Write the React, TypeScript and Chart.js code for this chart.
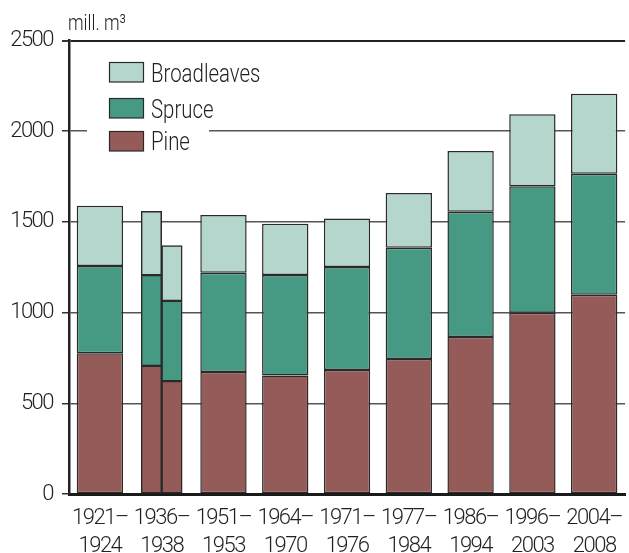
import React, { useEffect, useRef } from "react";
import { Chart, registerables } from "chart.js";

Chart.register(...registerables);

// ---- Data ----
const categories: string[][] = [
  ["1921–", "1924"],
  ["1936–", "1938"],
  ["1951–", "1953"],
  ["1964–", "1970"],
  ["1971–", "1976"],
  ["1977–", "1984"],
  ["1986–", "1994"],
  ["1996–", "2003"],
  ["2004–", "2008"],
];
// Main bars (index 1 is drawn as two split half-bars below)
const pine: (number | null)[] = [776, null, 672, 653, 684, 744, 866, 999, 1098];
const spruce: (number | null)[] = [481, null, 548, 554, 567, 613, 690, 697, 668];
const broadleaves: (number | null)[] = [332, null, 318, 283, 268, 302, 335, 397, 440];
// Split bar for 1936–1938: [left half, right half]
const splitIndex = 1;
const pineSplit = [706, 622];
const spruceSplit = [501, 443];
const broadleavesSplit = [351, 304];
const yTicks = [0, 500, 1000, 1500, 2000, 2500];

const seriesNames = ["Broadleaves", "Spruce", "Pine"];
const COLORS: Record<string, string> = {
  Pine: "#955b59",
  Spruce: "#469a83",
  Broadleaves: "#b5d6cd",
};
const BORDER = "#2a2a2a";
const TEXT = "#231f20";
const FONT = "Roboto, 'DejaVu Sans Condensed', sans-serif";
const SPACING = "-1.5px";
const CONDENSE = 0.8;

function splitData(vals: number[], half: number) {
  return categories.map((_, i) => (i === splitIndex ? vals[half] : null));
}

export default function App() {
  const ref = useRef<HTMLCanvasElement | null>(null);

  useEffect(() => {
    if (!ref.current) return;
    const base = {
      borderColor: BORDER,
      borderWidth: 1.5,
      borderSkipped: false as const,
      skipNull: true,
    };
    const mk = (label: string, data: (number | null)[], stack: string, thick?: number) => ({
      ...base,
      label,
      data,
      stack,
      backgroundColor: COLORS[label],
      ...(thick ? { barThickness: thick } : {}),
    });
    const datasets: any[] = [
      mk("Pine", pine, "main"),
      mk("Spruce", spruce, "main"),
      mk("Broadleaves", broadleaves, "main"),
      mk("Pine", splitData(pineSplit, 0), "a", 20.5),
      mk("Spruce", splitData(spruceSplit, 0), "a", 20.5),
      mk("Broadleaves", splitData(broadleavesSplit, 0), "a", 20.5),
      mk("Pine", splitData(pineSplit, 1), "b", 20.5),
      mk("Spruce", splitData(spruceSplit, 1), "b", 20.5),
      mk("Broadleaves", splitData(broadleavesSplit, 1), "b", 20.5),
    ];

    const spacing = {
      id: "spacing",
      beforeLayout(chart: any) {
        (chart.ctx as any).letterSpacing = SPACING;
      },
      beforeDraw(chart: any) {
        (chart.ctx as any).letterSpacing = SPACING;
      },
    };

    const condensedText = (ctx: any, text: string, x: number, y: number) => {
      ctx.save();
      ctx.translate(x, y);
      ctx.scale(CONDENSE, 1);
      ctx.fillText(text, 0, 0);
      ctx.restore();
    };

    const overlay = {
      id: "overlay",
      afterDatasetsDraw(chart: any) {
        const { ctx, chartArea } = chart;
        ctx.save();
        ctx.letterSpacing = "0px";
        // legend background
        ctx.fillStyle = "#ffffff";
        ctx.fillRect(chartArea.left + 18, chartArea.top + 14, 122, 118);
        const boxX = chartArea.left + 40.5;
        const boxTops = [62.5, 98.5, 131.5];
        const baselines = [81.7, 118, 150];
        seriesNames.forEach((name, i) => {
          ctx.fillStyle = COLORS[name];
          ctx.fillRect(boxX, boxTops[i], 34, 19.5);
          ctx.strokeStyle = BORDER;
          ctx.lineWidth = 1.2;
          ctx.strokeRect(boxX, boxTops[i], 34, 19.5);
          ctx.fillStyle = TEXT;
          ctx.font = `300 25.5px ${FONT}`;
          ctx.textBaseline = "alphabetic";
          ctx.textAlign = "left";
          condensedText(ctx, name, boxX + 41.5, baselines[i]);
        });
        // unit label
        ctx.font = `300 22px ${FONT}`;
        condensedText(ctx, "mill. m³", chartArea.left - 1, 30);
        ctx.restore();
      },
    };

    const chart = new Chart(ref.current, {
      type: "bar",
      data: { labels: categories, datasets },
      plugins: [spacing, overlay],
      options: {
        animation: false,
        responsive: false,
        layout: { padding: { top: 40.5, left: 0, right: 0, bottom: 0 } },
        plugins: { legend: { display: false }, tooltip: { enabled: false } },
        datasets: { bar: { categoryPercentage: 1, barPercentage: 0.75 } },
        scales: {
          x: {
            grid: { display: false, drawTicks: false },
            border: { display: true, color: "#1a1a1a", width: 3 },
            ticks: {
              color: TEXT,
              font: { family: FONT, size: 22, weight: "300", lineHeight: 28 / 22 },
              padding: 10,
              maxRotation: 0,
              autoSkip: false,
            },
            afterFit: (s: any) => {
              s.height = 59;
            },
          },
          y: {
            stacked: true,
            min: 0,
            max: 2500,
            afterBuildTicks: (s: any) => {
              s.ticks = yTicks.map((v) => ({ value: v }));
            },
            grid: {
              color: (c: any) => (c.tick && c.tick.value === 2500 ? "#222" : "#555"),
              lineWidth: (c: any) => (c.tick && c.tick.value === 2500 ? 2 : 1.5),
              tickColor: "#333",
              tickLength: 7,
              drawTicks: true,
            },
            border: { display: true, color: "#222", width: 2.5 },
            ticks: {
              color: TEXT,
              font: { family: FONT, size: 22, weight: "300" },
              padding: 9,
              callback: (v: any) => String(v),
            },
            afterFit: (s: any) => {
              s.width = 69;
            },
          },
        },
      },
    });
    return () => chart.destroy();
  }, []);

  return (
    <div style={{ position: "fixed", left: 0, top: 0, width: 629, height: 553, overflow: "hidden", background: "#fff" }}>
      <canvas ref={ref} width={632} height={553} style={{ display: "block" }} />
    </div>
  );
}
